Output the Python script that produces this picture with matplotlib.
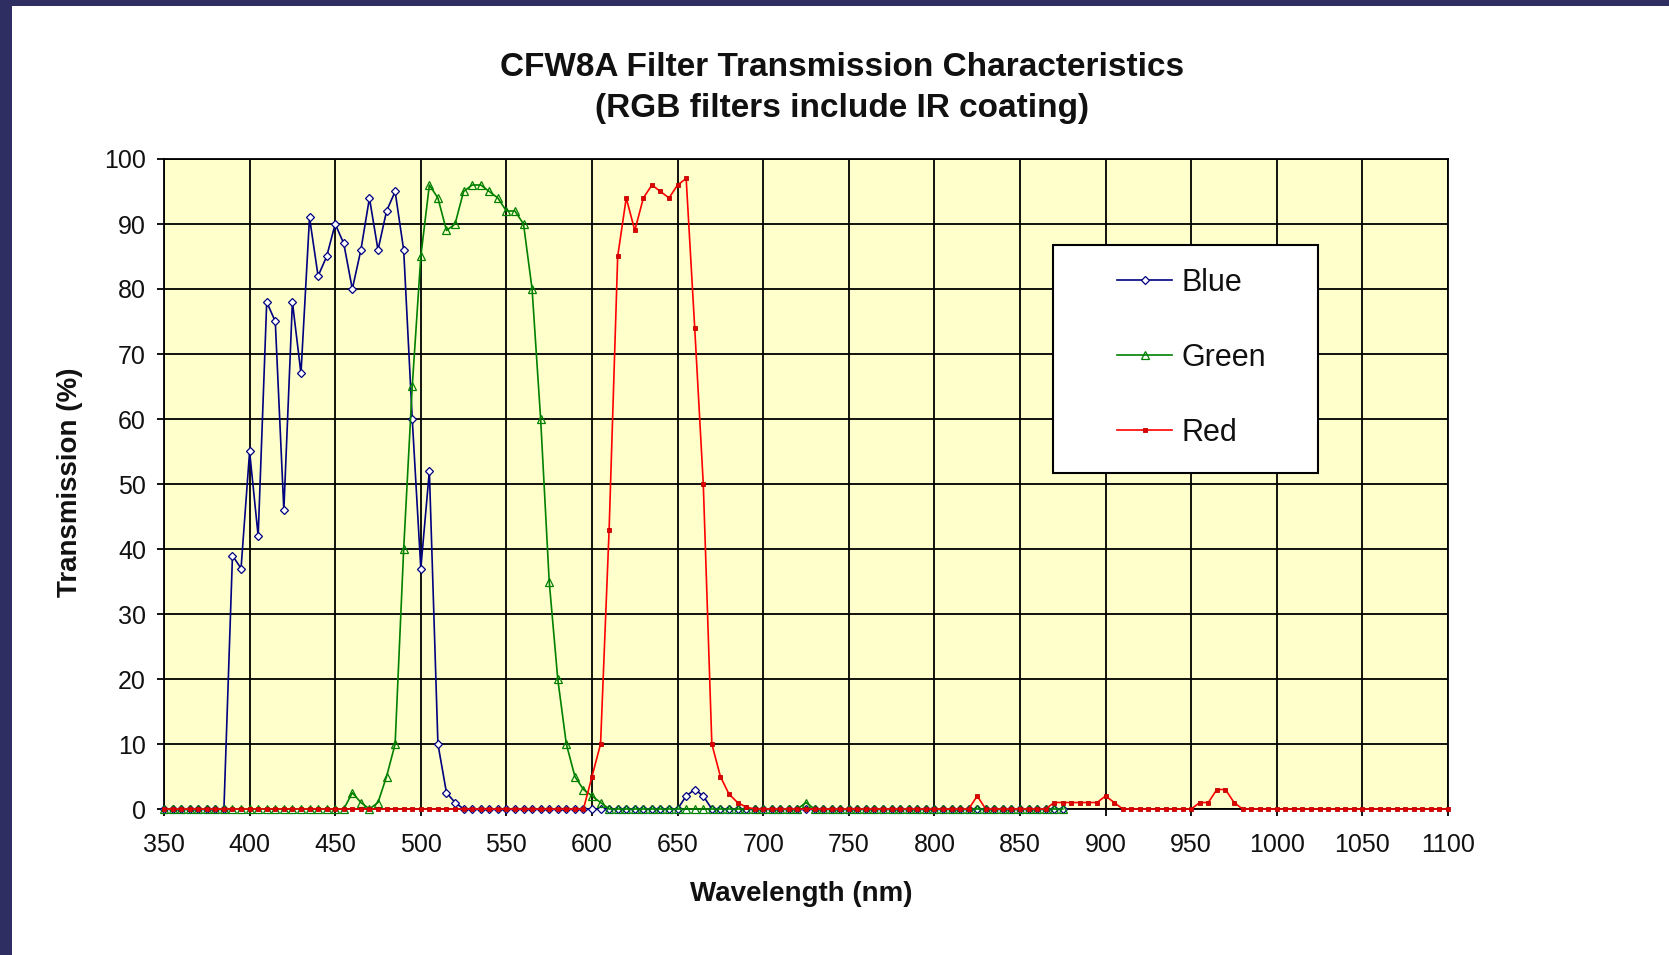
import matplotlib
matplotlib.use("Agg")
import matplotlib.pyplot as plt
from matplotlib.patches import Rectangle

# ---------------- data ----------------
wavelength_nm = [
    350, 355, 360, 365, 370, 375, 380, 385, 390, 395,
    400, 405, 410, 415, 420, 425, 430, 435, 440, 445,
    450, 455, 460, 465, 470, 475, 480, 485, 490, 495,
    500, 505, 510, 515, 520, 525, 530, 535, 540, 545,
    550, 555, 560, 565, 570, 575, 580, 585, 590, 595,
    600, 605, 610, 615, 620, 625, 630, 635, 640, 645,
    650, 655, 660, 665, 670, 675, 680, 685, 690, 695,
    700, 705, 710, 715, 720, 725, 730, 735, 740, 745,
    750, 755, 760, 765, 770, 775, 780, 785, 790, 795,
    800, 805, 810, 815, 820, 825, 830, 835, 840, 845,
    850, 855, 860, 865, 870, 875, 880, 885, 890, 895,
    900, 905, 910, 915, 920, 925, 930, 935, 940, 945,
    950, 955, 960, 965, 970, 975, 980, 985, 990, 995,
    1000, 1005, 1010, 1015, 1020, 1025, 1030, 1035, 1040, 1045,
    1050, 1055, 1060, 1065, 1070, 1075, 1080, 1085, 1090, 1095,
    1100,
]

blue_pct = [
    0, 0, 0, 0, 0, 0, 0, 0, 39, 37,
    55, 42, 78, 75, 46, 78, 67, 91, 82, 85,
    90, 87, 80, 86, 94, 86, 92, 95, 86, 60,
    37, 52, 10, 2.5, 1, 0, 0, 0, 0, 0,
    0, 0, 0, 0, 0, 0, 0, 0, 0, 0,
    0, 0, 0, 0, 0, 0, 0, 0, 0, 0,
    0, 2, 3, 2, 0, 0, 0, 0, 0, 0,
    0, 0, 0, 0, 0, 0, 0, 0, 0, 0,
    0, 0, 0, 0, 0, 0, 0, 0, 0, 0,
    0, 0, 0, 0, 0, 0, 0, 0, 0, 0,
    0, 0, 0, 0, 0, 0,
]

green_pct = [
    0, 0, 0, 0, 0, 0, 0, 0, 0, 0,
    0, 0, 0, 0, 0, 0, 0, 0, 0, 0,
    0, 0, 2.5, 1, 0, 1, 5, 10, 40, 65,
    85, 96, 94, 89, 90, 95, 96, 96, 95, 94,
    92, 92, 90, 80, 60, 35, 20, 10, 5, 3,
    2, 1, 0, 0, 0, 0, 0, 0, 0, 0,
    0, 0, 0, 0, 0, 0, 0, 0, 0, 0,
    0, 0, 0, 0, 0, 1, 0, 0, 0, 0,
    0, 0, 0, 0, 0, 0, 0, 0, 0, 0,
    0, 0, 0, 0, 0, 0, 0, 0, 0, 0,
    0, 0, 0, 0, 0, 0,
]

red_pct = [
    0, 0, 0, 0, 0, 0, 0, 0, 0, 0,
    0, 0, 0, 0, 0, 0, 0, 0, 0, 0,
    0, 0, 0, 0, 0, 0, 0, 0, 0, 0,
    0, 0, 0, 0, 0, 0, 0, 0, 0, 0,
    0, 0, 0, 0, 0, 0, 0, 0, 0, 0,
    5, 10, 43, 85, 94, 89, 94, 96, 95, 94,
    96, 97, 74, 50, 10, 5, 2.3, 1, 0.3, 0,
    0, 0, 0, 0, 0, 0, 0, 0, 0, 0,
    0, 0, 0, 0, 0, 0, 0, 0, 0, 0,
    0, 0, 0, 0, 0, 2, 0, 0, 0, 0,
    0, 0, 0, 0, 1, 1, 1, 1, 1, 1,
    2, 1, 0, 0, 0, 0, 0, 0, 0, 0,
    0, 1, 1, 3, 3, 1, 0, 0, 0, 0,
    0, 0, 0, 0, 0, 0, 0, 0, 0, 0,
    0, 0, 0, 0, 0, 0, 0, 0, 0, 0,
    0,
]

series_names = ["Blue", "Green", "Red"]
x_ticks = [350, 400, 450, 500, 550, 600, 650, 700, 750, 800, 850, 900, 950, 1000, 1050, 1100]
y_ticks = [0, 10, 20, 30, 40, 50, 60, 70, 80, 90, 100]

title_text = "CFW8A Filter Transmission Characteristics\n(RGB filters include IR coating)"
x_label = "Wavelength (nm)"
y_label = "Transmission (%)"

# ---------------- figure ----------------
W, H, DPI = 1669, 955, 100
plt.rcParams["font.family"] = ["Liberation Sans", "DejaVu Sans"]
fig = plt.figure(figsize=(W / DPI, H / DPI), dpi=DPI, facecolor="white")

# navy frame strips (left and top)
navy = "#2F2E63"
fig.patches.append(Rectangle((0, 0), 12 / W, 1, transform=fig.transFigure,
                             facecolor=navy, edgecolor="none", zorder=0))
fig.patches.append(Rectangle((0, 1 - 6 / H), 1, 6 / H, transform=fig.transFigure,
                             facecolor=navy, edgecolor="none", zorder=0))

ax_l, ax_r, ax_t, ax_b = 164, 1448, 159, 809
ax = fig.add_axes([ax_l / W, 1 - ax_b / H, (ax_r - ax_l) / W, (ax_b - ax_t) / H])
ax.set_facecolor("#FFFFCC")

ax.set_xlim(350, 1100)
ax.set_ylim(0, 100)
ax.set_xticks(x_ticks)
ax.set_yticks(y_ticks)
ax.grid(True, color="black", linewidth=1.3, zorder=1)
ax.set_axisbelow(True)
for s in ax.spines.values():
    s.set_color("black")
    s.set_linewidth(1.3)
ax.tick_params(axis="both", direction="out", length=5, width=1.3, color="black",
               labelsize=18, labelcolor="#111111")
ax.tick_params(axis="x", pad=12)
ax.tick_params(axis="y", pad=8)

blue_wl = wavelength_nm[:len(blue_pct)]
green_wl = wavelength_nm[:len(green_pct)]
red_wl = wavelength_nm[:len(red_pct)]

lb, = ax.plot(blue_wl, blue_pct, color="#000080", linewidth=1.2, marker="D",
              markersize=4.3, markerfacecolor="white", markeredgecolor="#000080",
              markeredgewidth=0.9, label=series_names[0], zorder=3, clip_on=False)
lg, = ax.plot(green_wl, green_pct, color="#008000", linewidth=1.2, marker="^",
              markersize=5.5, markerfacecolor="none", markeredgecolor="#008000",
              markeredgewidth=0.9, label=series_names[1], zorder=3.1, clip_on=False)
lr, = ax.plot(red_wl, red_pct, color="#FF0000", linewidth=1.2, marker="s",
              markersize=3.3, markerfacecolor="#E00000", markeredgecolor="#C00000",
              markeredgewidth=0.6, label=series_names[2], zorder=3.2, clip_on=False)

# legend box
lx0, lx1, ly0, ly1 = 1053, 1318, 245, 473
ax.add_patch(Rectangle(((lx0 - ax_l) / (ax_r - ax_l), (ax_b - ly1) / (ax_b - ax_t)),
                       (lx1 - lx0) / (ax_r - ax_l), (ly1 - ly0) / (ax_b - ax_t),
                       transform=ax.transAxes, facecolor="white", edgecolor="black",
                       linewidth=1.5, zorder=4.5))
leg = ax.legend(handles=[lb, lg, lr], loc="center left",
                bbox_to_anchor=((1117 - ax_l) / (ax_r - ax_l), (ax_b - 358) / (ax_b - ax_t)),
                frameon=False, borderpad=0, borderaxespad=0, fontsize=22,
                handlelength=1.8, handletextpad=0.3, labelspacing=1.47,
                numpoints=1)
leg.set_zorder(5)
for t in leg.get_texts():
    t.set_color("#111111")

# labels and title
fig.text(842 / W, 1 - 88 / H, title_text, ha="center", va="center",
         fontsize=24, fontweight="bold", linespacing=1.39, color="#111111")
fig.text(801 / W, 1 - 894 / H, x_label, ha="center", va="center",
         fontsize=20, fontweight="bold", color="#111111")
fig.text(70 / W, 1 - 482 / H, y_label, ha="center", va="center", rotation=90,
         fontsize=20, fontweight="bold", color="#111111")

fig.savefig("out.png", dpi=DPI, facecolor="white")
